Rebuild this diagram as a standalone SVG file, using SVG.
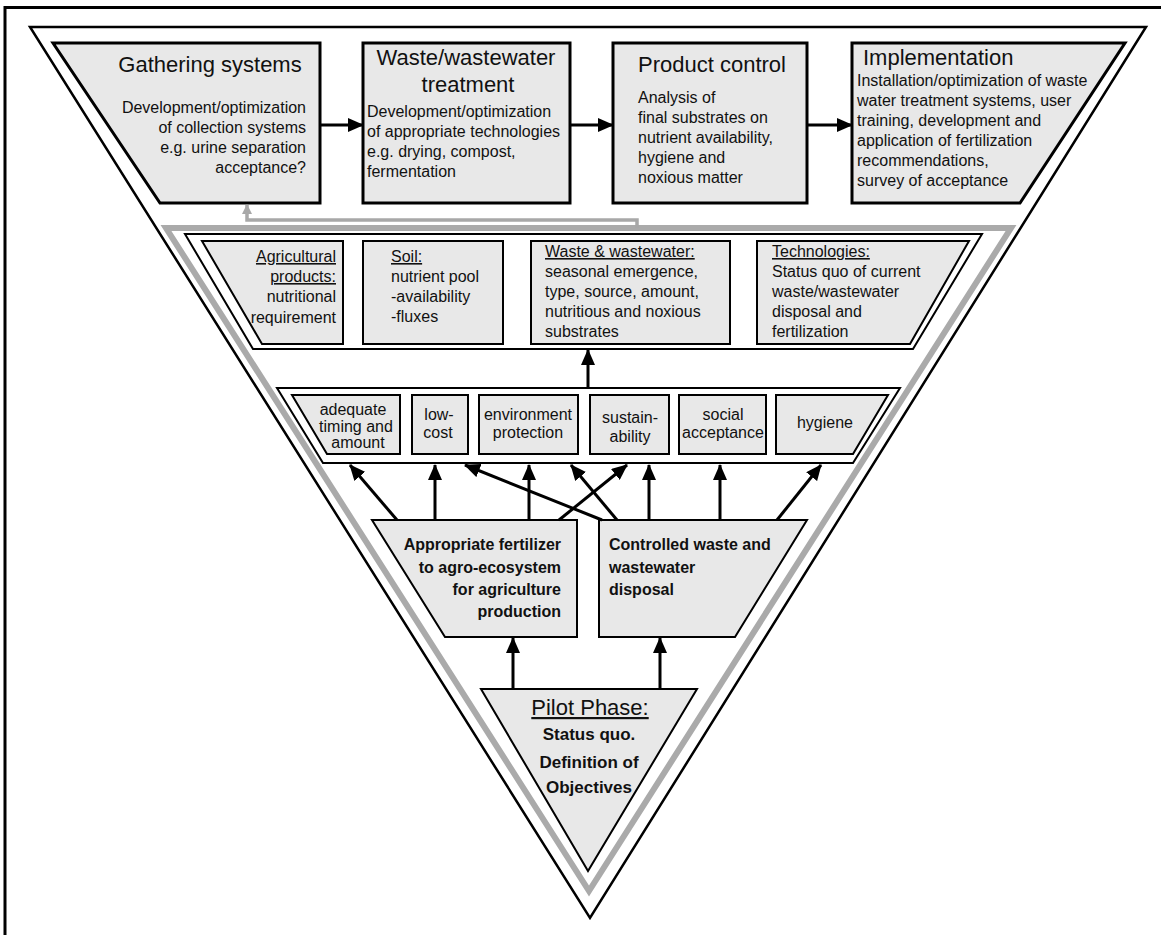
<svg xmlns="http://www.w3.org/2000/svg" width="1161" height="935" viewBox="0 0 1161 935">
<style>
text{font-family:"Liberation Sans",Arial,sans-serif;fill:#111;}
.t{font-size:22px;}
.b{font-size:16px;}
.bb{font-size:16px;font-weight:bold;}
.u{text-decoration:underline;}
.box{fill:#e8e8e8;stroke:#000;stroke-width:3;}
.sbox{fill:#e8e8e8;stroke:#000;stroke-width:2;}
.layer{fill:#fff;stroke:#000;stroke-width:2;}
.arr{stroke:#000;stroke-width:3;fill:none;marker-end:url(#ah);}
.e{text-anchor:end;}
.m{text-anchor:middle;}
</style>
<defs>
<marker id="ah" viewBox="0 0 16 14" refX="15" refY="7" markerWidth="16" markerHeight="14" markerUnits="userSpaceOnUse" orient="auto">
<path d="M0,0 L16,7 L0,14 Z" fill="#000"/>
</marker>
<marker id="gah" viewBox="0 0 10 10" refX="9" refY="5" markerWidth="10" markerHeight="10" markerUnits="userSpaceOnUse" orient="auto">
<path d="M0,0 L10,5 L0,10 Z" fill="#a8a8a8"/>
</marker>
</defs>
<rect width="1161" height="935" fill="#fff"/>
<g id="frame">
<path d="M5,935 L5,7.5 L1161,7.5" fill="none" stroke="#000" stroke-width="3"/>
</g>
<g id="outer">
<polygon points="30,27 1146,27 590,918" fill="#fff" stroke="#000" stroke-width="2.5"/>
<polygon points="166,228 1011,228 589,891" fill="#fff" stroke="#aaa" stroke-width="6"/>
</g>
<g id="gathering">
<polygon class="box" points="53,43 320,43 320,203 160,203"/>
<text class="t" x="210" y="72" text-anchor="middle">Gathering systems</text>
<text class="b e" x="306" y="113">Development/optimization</text>
<text class="b e" x="306" y="133">of collection systems</text>
<text class="b e" x="306" y="153">e.g. urine separation</text>
<text class="b e" x="306" y="173">acceptance?</text>
</g>
<g id="treatment">
<rect class="box" x="363" y="43" width="207" height="160"/>
<text class="t m" x="466" y="65">Waste/wastewater</text>
<text class="t m" x="468" y="92">treatment</text>
<text class="b" x="367" y="117">Development/optimization</text>
<text class="b" x="367" y="137">of appropriate technologies</text>
<text class="b" x="367" y="157">e.g. drying, compost,</text>
<text class="b" x="367" y="177">fermentation</text>
</g>
<g id="product">
<rect class="box" x="613" y="43" width="194" height="160"/>
<text class="t m" x="712" y="72">Product control</text>
<text class="b" x="638" y="103">Analysis of</text>
<text class="b" x="638" y="123">final substrates on</text>
<text class="b" x="638" y="143">nutrient availability,</text>
<text class="b" x="638" y="163">hygiene and</text>
<text class="b" x="638" y="183">noxious matter</text>
</g>
<g id="implementation">
<polygon class="box" points="852,43 1125,43 1020,203 852,203"/>
<text class="t" x="863" y="65">Implementation</text>
<text class="b" x="857" y="86">Installation/optimization of waste</text>
<text class="b" x="857" y="106">water treatment systems, user</text>
<text class="b" x="857" y="126">training, development and</text>
<text class="b" x="857" y="146">application of fertilization</text>
<text class="b" x="857" y="166">recommendations,</text>
<text class="b" x="857" y="186">survey of acceptance</text>
</g>
<g id="layer2">
<polygon class="layer" points="185,234 982,234 913,349 253,349"/>
</g>
<g id="agricultural">
<polygon class="sbox" points="202,241 343,241 343,344 262,344"/>
<text class="b e u" x="336" y="262">Agricultural</text>
<text class="b e u" x="336" y="282">products:</text>
<text class="b e" x="336" y="302">nutritional</text>
<text class="b e" x="336" y="323">requirement</text>
</g>
<g id="soil">
<rect class="sbox" x="363" y="241" width="140" height="103"/>
<text class="b u" x="391" y="262">Soil:</text>
<text class="b" x="391" y="282">nutrient pool</text>
<text class="b" x="391" y="302">-availability</text>
<text class="b" x="391" y="322">-fluxes</text>
</g>
<g id="wastewater">
<rect class="sbox" x="531" y="241" width="199" height="103"/>
<text class="b u" x="545" y="257">Waste &amp; wastewater:</text>
<text class="b" x="545" y="277">seasonal emergence,</text>
<text class="b" x="545" y="297">type, source, amount,</text>
<text class="b" x="545" y="317">nutritious and noxious</text>
<text class="b" x="545" y="337">substrates</text>
</g>
<g id="technologies">
<polygon class="sbox" points="757,241 969,241 910,344 757,344"/>
<text class="b u" x="772" y="257">Technologies:</text>
<text class="b" x="772" y="277">Status quo of current</text>
<text class="b" x="772" y="297">waste/wastewater</text>
<text class="b" x="772" y="317">disposal and</text>
<text class="b" x="772" y="337">fertilization</text>
</g>
<g id="layer3">
<polygon class="layer" points="277,388 900,388 853,463 323,463"/>
</g>
<g id="timing">
<polygon class="sbox" points="292,395 400,395 400,454 327,454"/>
<text class="b m" x="353" y="415">adequate</text>
<text class="b m" x="356" y="432">timing and</text>
<text class="b m" x="358" y="448">amount</text>
</g>
<g id="lowcost">
<rect class="sbox" x="412" y="395" width="56" height="59"/>
<text class="b m" x="439" y="420">low-</text>
<text class="b m" x="438" y="438">cost</text>
</g>
<g id="environment">
<rect class="sbox" x="479" y="395" width="99" height="59"/>
<text class="b m" x="528" y="420">environment</text>
<text class="b m" x="528" y="438">protection</text>
</g>
<g id="sustainability">
<rect class="sbox" x="590" y="395" width="79" height="59"/>
<text class="b m" x="630" y="423">sustain-</text>
<text class="b m" x="630" y="442">ability</text>
</g>
<g id="social">
<rect class="sbox" x="679" y="395" width="87" height="59"/>
<text class="b m" x="723" y="420">social</text>
<text class="b m" x="723" y="438">acceptance</text>
</g>
<g id="hygiene">
<polygon class="sbox" points="776,395 888,395 853,454 776,454"/>
<text class="b m" x="825" y="428">hygiene</text>
</g>
<g id="fertilizer">
<polygon class="sbox" points="372,520 577,520 577,637 445,637"/>
<text class="bb e" x="561" y="550">Appropriate fertilizer</text>
<text class="bb e" x="561" y="573">to agro-ecosystem</text>
<text class="bb e" x="561" y="595">for agriculture</text>
<text class="bb e" x="561" y="617">production</text>
</g>
<g id="disposal">
<polygon class="sbox" points="599,520 807,520 735,637 599,637"/>
<text class="bb" x="609" y="550">Controlled waste and</text>
<text class="bb" x="609" y="573">wastewater</text>
<text class="bb" x="609" y="595">disposal</text>
</g>
<g id="pilot">
<polygon class="sbox" points="481,689 697,689 588,871"/>
<text x="590" y="715" font-size="22" text-anchor="middle" text-decoration="underline">Pilot Phase:</text>
<text x="589" y="740" font-size="17" font-weight="bold" text-anchor="middle">Status quo.</text>
<text x="589" y="768" font-size="17" font-weight="bold" text-anchor="middle">Definition of</text>
<text x="589" y="793" font-size="17" font-weight="bold" text-anchor="middle">Objectives</text>
</g>
<g id="connectors">
<line class="arr" x1="320" y1="125" x2="363" y2="125"/>
<line class="arr" x1="570" y1="125" x2="613" y2="125"/>
<line class="arr" x1="807" y1="125" x2="852" y2="125"/>
<polyline points="637,228 637,220 247,220 247,205" fill="none" stroke="#a8a8a8" stroke-width="3.5" marker-end="url(#gah)"/>
<line class="arr" x1="588" y1="388" x2="588" y2="350"/>
<line class="arr" x1="397" y1="520" x2="350" y2="465"/>
<line class="arr" x1="435" y1="520" x2="435" y2="465"/>
<line class="arr" x1="602" y1="520" x2="465" y2="465"/>
<line class="arr" x1="529" y1="520" x2="529" y2="465"/>
<line class="arr" x1="559" y1="520" x2="627" y2="465"/>
<line class="arr" x1="617" y1="520" x2="571" y2="465"/>
<line class="arr" x1="649" y1="520" x2="649" y2="465"/>
<line class="arr" x1="720" y1="520" x2="720" y2="465"/>
<line class="arr" x1="777" y1="520" x2="821" y2="465"/>
<line class="arr" x1="513" y1="689" x2="513" y2="638"/>
<line class="arr" x1="660" y1="689" x2="660" y2="638"/>
</g>
</svg>
